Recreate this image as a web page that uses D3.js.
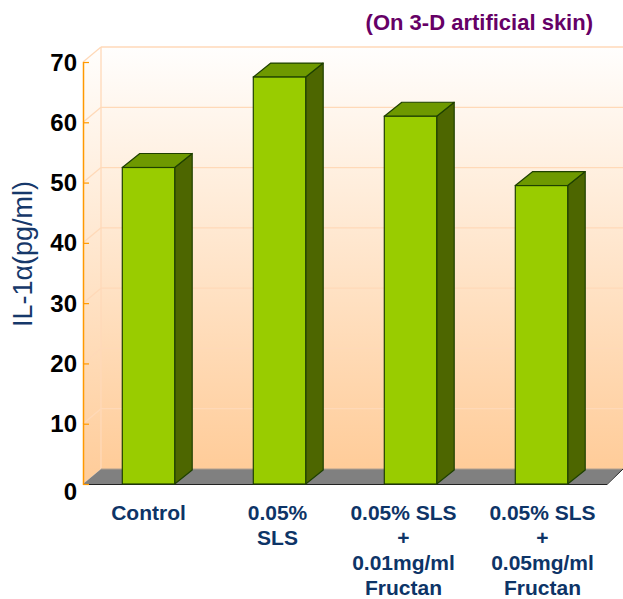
<!DOCTYPE html>
<html>
<head>
<meta charset="utf-8">
<script src="https://cdn.jsdelivr.net/npm/d3@7"></script>
<style>
  html, body { margin: 0; padding: 0; background: #fff; }
  svg { display: block; font-family: Arial, "Liberation Sans", sans-serif; }
</style>
</head>
<body>
<svg id="chart" width="623" height="599"></svg>
<script>
// données
const categories = ['Control', '0.05% SLS', '0.05% SLS + 0.01mg/ml Fructan', '0.05% SLS + 0.05mg/ml Fructan'];
const catLines = [['Control'], ['0.05%', 'SLS'], ['0.05% SLS', '+', '0.01mg/ml', 'Fructan'], ['0.05% SLS', '+', '0.05mg/ml', 'Fructan']];
const values = [52.5, 67.5, 61, 49.5];
const yTicks = [0, 10, 20, 30, 40, 50, 60, 70];

// petit décalage horizontal des étiquettes (comme dans l'original)
const labelShift = [0, -2, -7, 1];

const svg = d3.select('#chart');

// profondeur 3D
const dx = 18, dy = 15;   // murs
const bx = 17.5, by = 14; // barres

const x = d3.scaleBand().domain(categories).range([83, 607]).paddingInner(0.6).paddingOuter(0.3);
const y = d3.scaleLinear().domain([0, 70]).range([484, 62]);

const defs = svg.append('defs');
const grad = defs.append('linearGradient').attr('id', 'wall').attr('x1', 0).attr('y1', 0).attr('x2', 0).attr('y2', 1);
grad.append('stop').attr('offset', '0%').attr('stop-color', '#fffefd');
grad.append('stop').attr('offset', '100%').attr('stop-color', '#ffcc99');

const y0 = y(0), yTop = y(70);
const xL = 83, xR = 607;

// mur du fond
svg.append('rect')
  .attr('x', xL + dx).attr('y', yTop - dy)
  .attr('width', 623 - xL - dx).attr('height', y0 - yTop)
  .attr('fill', 'url(#wall)');
// mur de gauche
svg.append('path')
  .attr('d', `M${xL},${yTop} L${xL + dx},${yTop - dy} L${xL + dx},${y0 - dy} L${xL},${y0} Z`)
  .attr('fill', 'url(#wall)');

// grille
const grid = svg.append('g').attr('stroke', '#ffd9b8').attr('stroke-width', 1.3).attr('fill', 'none');
yTicks.forEach(t => {
  if (t === 0) return;
  grid.append('line').attr('x1', xL + dx).attr('x2', 623).attr('y1', y(t) - dy).attr('y2', y(t) - dy);
  grid.append('line').attr('x1', xL).attr('x2', xL + dx).attr('y1', y(t)).attr('y2', y(t) - dy);
});
grid.append('line').attr('x1', xL + dx).attr('x2', xL + dx).attr('y1', yTop - dy).attr('y2', y0 - dy);

// sol
svg.append('path')
  .attr('d', `M${xL},${y0} L${xL + dx},${y0 - dy} L${623},${y0 - dy} L${xR},${y0} Z`)
  .attr('fill', '#808080');
svg.append('line').attr('x1', xL + dx).attr('x2', 623).attr('y1', y0 - dy).attr('y2', y0 - dy)
  .attr('stroke', '#b0a090').attr('stroke-width', 1);
svg.append('line').attr('x1', xL).attr('x2', xR).attr('y1', y0 + 0.5).attr('y2', y0 + 0.5)
  .attr('stroke', '#222').attr('stroke-width', 1.2);
svg.append('line').attr('x1', xR).attr('x2', 623).attr('y1', y0 + 0.5).attr('y2', y0 - dy)
  .attr('stroke', '#222').attr('stroke-width', 1);

// barres 3D
const bars = svg.append('g').selectAll('g').data(categories).join('g');
const bw = x.bandwidth();
bars.append('path') // côté
  .attr('d', (c, i) => {
    const x0 = x(c) + bw, yt = y(values[i]);
    return `M${x0},${yt} L${x0 + bx},${yt - by} L${x0 + bx},${y0 - by} L${x0},${y0} Z`;
  })
  .attr('fill', '#4d6600').attr('stroke', '#1e4000').attr('stroke-width', 1.2).attr('stroke-linejoin', 'round');
bars.append('path') // dessus
  .attr('d', (c, i) => {
    const x0 = x(c), yt = y(values[i]);
    return `M${x0},${yt} L${x0 + bx},${yt - by} L${x0 + bw + bx},${yt - by} L${x0 + bw},${yt} Z`;
  })
  .attr('fill', '#6e9900').attr('stroke', '#1e4000').attr('stroke-width', 1.2).attr('stroke-linejoin', 'round');
bars.append('rect') // face
  .attr('x', c => x(c)).attr('width', bw)
  .attr('y', (c, i) => y(values[i])).attr('height', (c, i) => y0 - y(values[i]))
  .attr('fill', '#99cc00').attr('stroke', '#1e4000').attr('stroke-width', 1.2);

// axe Y
const yAxis = svg.append('g').attr('transform', `translate(${xL},0)`)
  .call(d3.axisRight(y).tickValues(yTicks).tickSize(6).tickFormat(''));
yAxis.select('.domain').attr('stroke', '#ff9900').attr('stroke-width', 1.5).attr('d', `M0.5,${yTop}V${y0 + 1}`);
yAxis.selectAll('.tick line').attr('stroke', '#ff9900').attr('stroke-width', 1.2);

svg.append('g').selectAll('text').data(yTicks).join('text')
  .attr('x', 77).attr('y', t => y(t) + (t === 0 ? 7 : 0))
  .attr('text-anchor', 'end').attr('dominant-baseline', 'central')
  .attr('font-size', 24).attr('font-weight', 'bold').attr('fill', '#000')
  .text(t => t);

// titre axe Y
svg.append('text')
  .attr('transform', `translate(32,254) rotate(-90)`)
  .attr('text-anchor', 'middle')
  .attr('font-size', 27).attr('fill', '#16386a')
  .text('IL-1α(pg/ml)');

// étiquettes X
const xl = svg.append('g').selectAll('text').data(categories).join('text')
  .attr('y', 520)
  .attr('text-anchor', 'middle').attr('font-size', 21).attr('font-weight', 'bold').attr('fill', '#0d3467');
xl.each(function (c, i) {
  const cx = x(c) + bw / 2 + labelShift[i];
  d3.select(this).selectAll('tspan').data(catLines[i]).join('tspan')
    .attr('x', cx).attr('dy', (d, j) => j === 0 ? 0 : 25)
    .text(d => d);
});

// titre
svg.append('text')
  .attr('x', 593).attr('y', 30).attr('text-anchor', 'end')
  .attr('font-size', 22).attr('font-weight', 'bold').attr('fill', '#660066')
  .text('(On 3-D artificial skin)');
</script>
</body>
</html>
